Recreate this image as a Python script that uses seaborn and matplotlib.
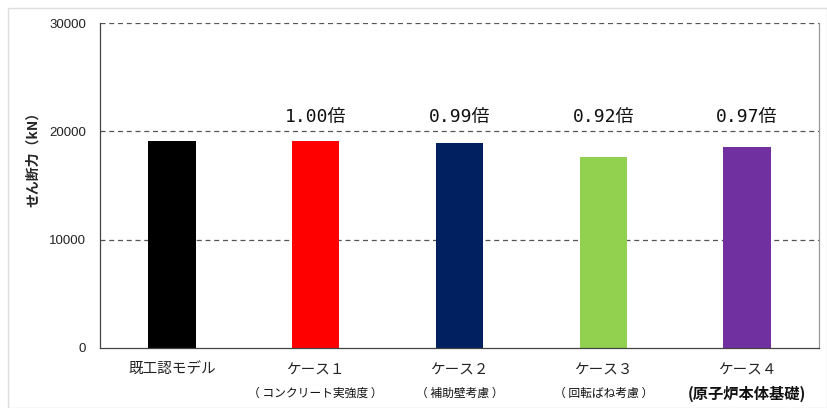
import matplotlib
matplotlib.use("Agg")
import matplotlib.pyplot as plt
from matplotlib.patches import Rectangle
import seaborn as sns
import pandas as pd

categories = ["既工認モデル", "ケース１", "ケース２", "ケース３", "ケース４"]
subtitles = ["", "（ コンクリート実強度 ）", "（ 補助壁考慮 ）", "（ 回転ばね考慮 ）", "(原子炉本体基礎)"]
shear_kN = [19150, 19150, 18960, 17620, 18580]
ratio_labels = ["", "1.00倍", "0.99倍", "0.92倍", "0.97倍"]
colors = ["#000000", "#FF0000", "#002060", "#92D050", "#7030A0"]
y_ticks = [0, 10000, 20000, 30000]

sns.set_theme(style="white")
plt.rcParams["font.family"] = ["Noto Sans CJK JP", "DejaVu Sans"]

df = pd.DataFrame({"case": categories, "shear": shear_kN})

fig = plt.figure(figsize=(8.28, 4.08), dpi=100)
ax = fig.add_axes([100 / 828, 1 - 348 / 408, 719 / 828, 325 / 408])

sns.barplot(data=df, x="case", y="shear", hue="case", palette=colors,
            width=0.33, legend=False, ax=ax, saturation=1, edgecolor="none")

ax.set_ylim(0, 30000)
ax.set_xlim(-0.5, 4.5)
ax.set_yticks(y_ticks)
ax.set_yticklabels([str(v) for v in y_ticks], family="Liberation Sans",
                   fontsize=9.5, color="#222222")
ax.tick_params(axis="y", length=0, pad=10)
ax.tick_params(axis="x", length=0)

for v in y_ticks[1:]:
    ax.axhline(v, color="#555555", linestyle=(0, (4, 3)), linewidth=0.9, zorder=0)

ax.spines["top"].set_visible(False)
ax.spines["left"].set_color("#444444")
ax.spines["bottom"].set_color("#444444")
ax.spines["right"].set_color("#999999")
for s in ["left", "bottom", "right"]:
    ax.spines[s].set_linewidth(0.9)

ax.set_xticks(range(len(categories)))
ax.set_xticklabels([])
ax.set_xlabel("")
ax.set_ylabel("せん断力（kN）", fontsize=10, fontweight="bold")
ax.yaxis.set_label_coords(-60 / 719, (348 - 156) / 325)

for i, (name, sub) in enumerate(zip(categories, subtitles)):
    ax.text(i, -0.068, name, transform=ax.get_xaxis_transform(),
            ha="center", va="center", fontsize=10.5, color="#222222")
    if sub:
        bold = i == 4
        ax.text(i, -0.14, sub, transform=ax.get_xaxis_transform(),
                ha="center", va="center",
                fontsize=11 if bold else 8.5,
                fontweight="bold" if bold else "normal", color="#111111")

for i, (val, lab) in enumerate(zip(shear_kN, ratio_labels)):
    if lab:
        ax.text(i, 21300, lab, ha="center", va="center", fontsize=13,
                family=["DejaVu Sans Mono", "Noto Sans CJK JP"], color="#111111")

fig.patches.append(Rectangle((8 / 828, 0), 819 / 828, 400 / 408,
                             transform=fig.transFigure, fill=False,
                             edgecolor="#DDDDDD", linewidth=1))

fig.savefig("out.png", dpi=100)
